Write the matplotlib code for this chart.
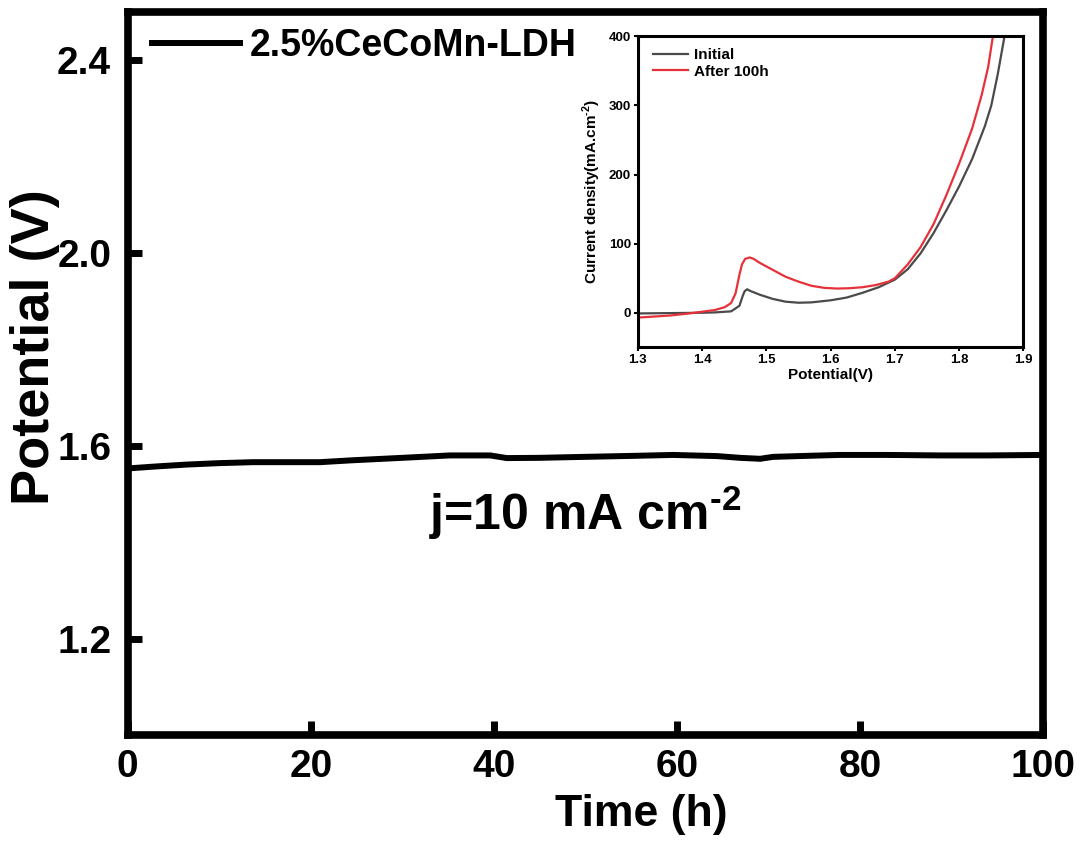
import numpy as np
import matplotlib
matplotlib.use("Agg")
import matplotlib.pyplot as plt

plt.rcParams['font.family'] = ['Liberation Sans', 'DejaVu Sans']
plt.rcParams['font.weight'] = 'bold'
plt.rcParams['mathtext.fontset'] = 'custom'
plt.rcParams['mathtext.rm'] = 'Liberation Sans'
plt.rcParams['mathtext.bf'] = 'Liberation Sans:bold'

# chronopotentiometry at 10 mA cm-2
time_h = [0, 3, 6.4, 10, 13.7, 21, 24.6, 30, 35.2, 39.6, 41.4, 45, 48.6, 55,
          59.6, 64.4, 66.9, 69.1, 70.5, 74, 77.8, 83, 88.7, 94, 100]
potential_v = [1.553, 1.557, 1.561, 1.564, 1.566, 1.566, 1.570, 1.575, 1.580,
               1.580, 1.5745, 1.575, 1.5765, 1.579, 1.581, 1.5786, 1.575, 1.573,
               1.577, 1.579, 1.581, 1.581, 1.580, 1.580, 1.581]

# LSV curves (inset)
v_init = [1.30, 1.35, 1.40, 1.42, 1.445, 1.458, 1.463, 1.466, 1.470, 1.475,
          1.49, 1.51, 1.53, 1.55, 1.57, 1.60, 1.625, 1.65, 1.675, 1.70, 1.72,
          1.74, 1.76, 1.78, 1.80, 1.82, 1.84, 1.85, 1.86, 1.87]
j_init = [-1, -0.5, 0, 0.5, 2, 10, 24, 31, 34, 31.5, 26, 20, 16, 14.5, 15, 18,
          22, 29, 37, 48, 63, 86, 115, 148, 183, 222, 270, 300, 345, 397]
v_after = [1.30, 1.35, 1.38, 1.40, 1.42, 1.435, 1.445, 1.452, 1.458, 1.462,
           1.467, 1.474, 1.48, 1.49, 1.51, 1.53, 1.55, 1.57, 1.59, 1.61, 1.63,
           1.65, 1.67, 1.69, 1.70, 1.72, 1.74, 1.76, 1.78, 1.80, 1.82, 1.835,
           1.845, 1.852]
j_after = [-7, -4, -1, 1.5, 4, 8, 14, 28, 55, 70, 78, 80, 78, 72, 62, 52, 45,
           39, 36, 35, 35.5, 37, 40, 45, 50, 70, 95, 128, 170, 216, 266, 315,
           355, 397]

fig = plt.figure(figsize=(10.83, 8.43), dpi=100)
ax = fig.add_axes([0.118, 0.128, 0.845, 0.858])
ax.plot(time_h, potential_v, color='black', lw=4.3, label='2.5%CeCoMn-LDH')
ax.set_xlim(0, 100)
ax.set_ylim(1.0, 2.5)
ax.set_xticks([0, 20, 40, 60, 80, 100])
ax.set_yticks([1.2, 1.6, 2.0, 2.4])
ax.tick_params(direction='in', length=10, width=5, labelsize=28)
ax.tick_params(axis='y', pad=12)
ax.tick_params(axis='x', pad=10)
for s in ax.spines.values():
    s.set_linewidth(5.5)
ax.set_xlabel('Time (h)', fontsize=32, fontweight='bold')
ax.set_ylabel('Potential (V)', fontsize=39, fontweight='bold')
ax.xaxis.set_label_coords(0.561, -0.082)
ax.yaxis.set_label_coords(-0.074, 0.537)
ax.legend(loc='center left', bbox_to_anchor=(0.026, 0.953), frameon=False,
          fontsize=27, handlelength=2.35, handletextpad=0.27,
          borderpad=0, borderaxespad=0)
ax.text(0.4995, 0.307, 'j=10 mA cm$^{\\mathbf{\u2010 2}}$', transform=ax.transAxes,
        ha='center', va='center', fontsize=36, fontweight='bold')

ins = fig.add_axes([0.589, 0.588, 0.356, 0.369])
ins.plot(v_init, j_init, color='#4a4a4a', lw=1.6, label='Initial')
ins.plot(v_after, j_after, color='#e5323a', lw=1.6, label='After 100h')
ins.set_xlim(1.3, 1.9)
ins.set_ylim(-50, 400)
ins.set_xticks([1.3, 1.4, 1.5, 1.6, 1.7, 1.8, 1.9])
ins.set_yticks([0, 100, 200, 300, 400])
ins.tick_params(direction='out', length=3, width=1.5, labelsize=9.5, pad=2)
for s in ins.spines.values():
    s.set_linewidth(2.2)
ins.set_xlabel('Potential(V)', fontsize=11, fontweight='bold', labelpad=1)
ins.set_ylabel('Current density(mA.cm$^{\\mathbf{\u2010 2}}$)', fontsize=11,
               fontweight='bold', labelpad=4)
ins.legend(loc='center left', bbox_to_anchor=(0.039, 0.912), frameon=False,
           fontsize=11, handlelength=2.3, handletextpad=0.4, labelspacing=0.15,
           borderpad=0, borderaxespad=0)

fig.savefig('out.png', dpi=100)
